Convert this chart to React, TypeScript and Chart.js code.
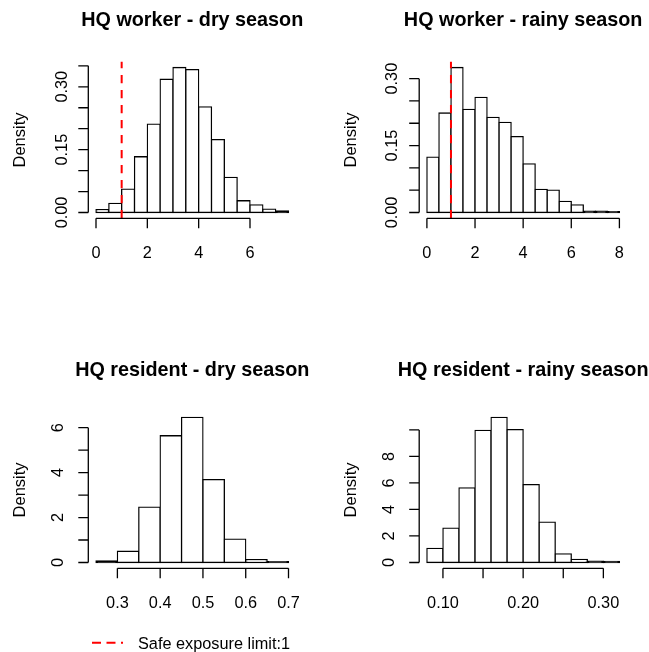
import React, { useEffect, useRef } from 'react';
import { Chart, registerables } from 'chart.js';

Chart.register(...registerables);

// ---------------- data ----------------
const workerDryEdges = [0, 0.5, 1, 1.5, 2, 2.5, 3, 3.5, 4, 4.5, 5, 5.5, 6, 6.5, 7, 7.5];
const workerDryDensity = [0.007, 0.022, 0.056, 0.133, 0.211, 0.318, 0.346, 0.341, 0.252, 0.174, 0.084, 0.028, 0.018, 0.008, 0.004];
const workerDryXTicks = [0, 2, 4, 6];
const workerDryXLabels = ['0', '2', '4', '6'];
const workerDryYTicks = [0, 0.05, 0.1, 0.15, 0.2, 0.25, 0.3, 0.35];
const workerDryYLabels = ['0.00', '', '', '0.15', '', '', '0.30', ''];

const workerRainyEdges = [0, 0.5, 1, 1.5, 2, 2.5, 3, 3.5, 4, 4.5, 5, 5.5, 6, 6.5, 7, 7.5, 8];
const workerRainyDensity = [0.124, 0.223, 0.325, 0.231, 0.258, 0.213, 0.202, 0.17, 0.109, 0.052, 0.05, 0.025, 0.017, 0.003, 0.003, 0.002];
const workerRainyXTicks = [0, 2, 4, 6, 8];
const workerRainyXLabels = ['0', '2', '4', '6', '8'];
const workerRainyYTicks = [0, 0.05, 0.1, 0.15, 0.2, 0.25, 0.3];
const workerRainyYLabels = ['0.00', '', '', '0.15', '', '', '0.30'];

const residentDryEdges = [0.25, 0.3, 0.35, 0.4, 0.45, 0.5, 0.55, 0.6, 0.65, 0.7];
const residentDryDensity = [0.07, 0.5, 2.46, 5.64, 6.46, 3.69, 1.04, 0.13, 0.04];
const residentDryXTicks = [0.3, 0.4, 0.5, 0.6, 0.7];
const residentDryXLabels = ['0.3', '0.4', '0.5', '0.6', '0.7'];
const residentDryYTicks = [0, 1, 2, 3, 4, 5, 6];
const residentDryYLabels = ['0', '', '2', '', '4', '', '6'];

const residentRainyEdges = [0.08, 0.1, 0.12, 0.14, 0.16, 0.18, 0.2, 0.22, 0.24, 0.26, 0.28, 0.3, 0.32];
const residentRainyDensity = [1.06, 2.59, 5.63, 9.97, 10.95, 10.02, 5.88, 3.04, 0.65, 0.23, 0.1, 0.075];
const residentRainyXTicks = [0.1, 0.15, 0.2, 0.25, 0.3];
const residentRainyXLabels = ['0.10', '', '0.20', '', '0.30'];
const residentRainyYTicks = [0, 2, 4, 6, 8, 10];
const residentRainyYLabels = ['0', '2', '4', '6', '8', ''];

const safeExposureLimit = 1;
const legendLabel = 'Safe exposure limit:1';
const yAxisTitle = 'Density';

// ---------------- layout ----------------
const W = 649;
const H = 652;
const FONT = "'Liberation Sans', Arial, Helvetica, sans-serif";
const LINE = 1.3;

type Area = { left: number; right: number; top: number; bottom: number };
type Panel = {
  title: string;
  edges: number[];
  density: number[];
  xTicks: number[];
  xLabels: string[];
  yTicks: number[];
  yLabels: string[];
  area: Area;
  yLabelGap: number;
  limit?: number;
  legend?: boolean;
};

const panels: Panel[] = [
  {
    title: 'HQ worker - dry season',
    edges: workerDryEdges, density: workerDryDensity,
    xTicks: workerDryXTicks, xLabels: workerDryXLabels,
    yTicks: workerDryYTicks, yLabels: workerDryYLabels,
    area: { left: 88.3, right: 296.2, top: 61.7, bottom: 218.3 },
    yLabelGap: 21.5,
    limit: safeExposureLimit,
  },
  {
    title: 'HQ worker - rainy season',
    edges: workerRainyEdges, density: workerRainyDensity,
    xTicks: workerRainyXTicks, xLabels: workerRainyXLabels,
    yTicks: workerRainyYTicks, yLabels: workerRainyYLabels,
    area: { left: 419.2, right: 627.1, top: 61.7, bottom: 218.3 },
    yLabelGap: 22,
    limit: safeExposureLimit,
  },
  {
    title: 'HQ resident - dry season',
    edges: residentDryEdges, density: residentDryDensity,
    xTicks: residentDryXTicks, xLabels: residentDryXLabels,
    yTicks: residentDryYTicks, yLabels: residentDryYLabels,
    area: { left: 88.3, right: 296.2, top: 411.5, bottom: 568.3 },
    yLabelGap: 25.5,
    legend: true,
  },
  {
    title: 'HQ resident - rainy season',
    edges: residentRainyEdges, density: residentRainyDensity,
    xTicks: residentRainyXTicks, xLabels: residentRainyXLabels,
    yTicks: residentRainyYTicks, yLabels: residentRainyYLabels,
    area: { left: 419.2, right: 627.1, top: 411.5, bottom: 568.3 },
    yLabelGap: 25.5,
  },
];

function rAxesPlugin(p: Panel) {
  return {
    id: 'rAxes',
    afterDraw(chart: any) {
      const { ctx, chartArea: a } = chart;
      const x = chart.scales.x;
      const y = chart.scales.y;
      ctx.save();

      // safe exposure limit line
      if (p.limit !== undefined) {
        const px = x.getPixelForValue(p.limit);
        ctx.save();
        ctx.strokeStyle = '#ff0000';
        ctx.lineWidth = 2;
        ctx.setLineDash([8.3, 6.7]);
        ctx.beginPath();
        ctx.moveTo(px, a.bottom);
        ctx.lineTo(px, a.top);
        ctx.stroke();
        ctx.restore();
      }

      ctx.strokeStyle = '#000';
      ctx.fillStyle = '#000';
      ctx.lineWidth = LINE;

      // x axis
      const xs = p.xTicks.map((v) => x.getPixelForValue(v));
      ctx.beginPath();
      ctx.moveTo(xs[0], a.bottom);
      ctx.lineTo(xs[xs.length - 1], a.bottom);
      xs.forEach((px) => {
        ctx.moveTo(px, a.bottom);
        ctx.lineTo(px, a.bottom + 10);
      });
      // y axis
      const ys = p.yTicks.map((v) => y.getPixelForValue(v));
      ctx.moveTo(a.left, ys[0]);
      ctx.lineTo(a.left, ys[ys.length - 1]);
      ys.forEach((py) => {
        ctx.moveTo(a.left, py);
        ctx.lineTo(a.left - 10, py);
      });
      ctx.stroke();

      ctx.font = `16.3px ${FONT}`;
      ctx.textAlign = 'center';
      ctx.textBaseline = 'alphabetic';
      xs.forEach((px, i) => {
        if (p.xLabels[i]) ctx.fillText(p.xLabels[i], px, a.bottom + 39.2);
      });
      ys.forEach((py, i) => {
        if (!p.yLabels[i]) return;
        ctx.save();
        ctx.translate(a.left - p.yLabelGap, py);
        ctx.rotate(-Math.PI / 2);
        ctx.fillText(p.yLabels[i], 0, 0);
        ctx.restore();
      });

      // y title
      ctx.font = `16.5px ${FONT}`;
      ctx.save();
      ctx.translate(a.left - 63.5, (a.top + a.bottom) / 2);
      ctx.rotate(-Math.PI / 2);
      ctx.fillText(yAxisTitle, 0, 0);
      ctx.restore();

      // main title
      ctx.font = `bold 19.8px ${FONT}`;
      ctx.fillText(p.title, (a.left + a.right) / 2, a.top - 35.5);

      // legend
      if (p.legend) {
        ctx.save();
        ctx.strokeStyle = '#ff0000';
        ctx.lineWidth = 2;
        ctx.setLineDash([9, 5.5]);
        ctx.beginPath();
        ctx.moveTo(92, 642.7);
        ctx.lineTo(123, 642.7);
        ctx.stroke();
        ctx.restore();
        ctx.font = `16.3px ${FONT}`;
        ctx.textAlign = 'left';
        ctx.fillText(legendLabel, 138, 648.5);
      }
      ctx.restore();
    },
  };
}

function makeChart(canvas: HTMLCanvasElement, p: Panel) {
  const xMinData = p.edges[0];
  const xMaxData = p.edges[p.edges.length - 1];
  const yMaxData = Math.max(...p.density);
  const xPad = (xMaxData - xMinData) * 0.04;
  const yPad = yMaxData * 0.04;
  const points = p.density.map((d, i) => ({ x: (p.edges[i] + p.edges[i + 1]) / 2, y: d }));
  return new Chart(canvas, {
    type: 'bar',
    data: {
      datasets: [
        {
          data: points as any,
          // very short bars render as a solid dark band, like overlapping strokes in R
          backgroundColor: (c: any) => {
            const s = c.chart.scales.y;
            if (!s || !c.raw) return '#ffffff';
            const h = Math.abs(s.getPixelForValue(c.raw.y) - s.getPixelForValue(0));
            return h < LINE * 1.6 ? '#000000' : '#ffffff';
          },
          borderColor: '#000000',
          borderWidth: LINE,
          borderSkipped: false,
          inflateAmount: LINE / 2,
          barPercentage: 1,
          categoryPercentage: 1,
        } as any,
      ],
    },
    options: {
      responsive: false,
      animation: false,
      events: [],
      layout: {
        padding: {
          left: p.area.left,
          top: p.area.top,
          right: W - p.area.right,
          bottom: H - p.area.bottom,
        },
      },
      plugins: {
        legend: { display: false },
        title: { display: false },
        tooltip: { enabled: false },
      },
      scales: {
        x: {
          type: 'linear',
          display: false,
          offset: false,
          min: xMinData - xPad,
          max: xMaxData + xPad,
          afterBuildTicks: (s: any) => {
            s.ticks = p.xTicks.map((v) => ({ value: v }));
          },
        },
        y: {
          type: 'linear',
          display: false,
          min: -yPad,
          max: yMaxData + yPad,
          afterBuildTicks: (s: any) => {
            s.ticks = p.yTicks.map((v) => ({ value: v }));
          },
        },
      },
    } as any,
    plugins: [rAxesPlugin(p)],
  });
}

export default function App() {
  const refs = [
    useRef<HTMLCanvasElement>(null),
    useRef<HTMLCanvasElement>(null),
    useRef<HTMLCanvasElement>(null),
    useRef<HTMLCanvasElement>(null),
  ];
  useEffect(() => {
    const charts = panels.map((p, i) => makeChart(refs[i].current as HTMLCanvasElement, p));
    return () => charts.forEach((c) => c.destroy());
  }, []);
  return (
    <div style={{ position: 'absolute', left: 0, top: 0, width: W, height: H, background: '#fff' }}>
      {panels.map((p, i) => (
        <canvas
          key={i}
          ref={refs[i]}
          width={W}
          height={H}
          style={{ position: 'absolute', left: 0, top: 0, width: W, height: H }}
        />
      ))}
    </div>
  );
}
